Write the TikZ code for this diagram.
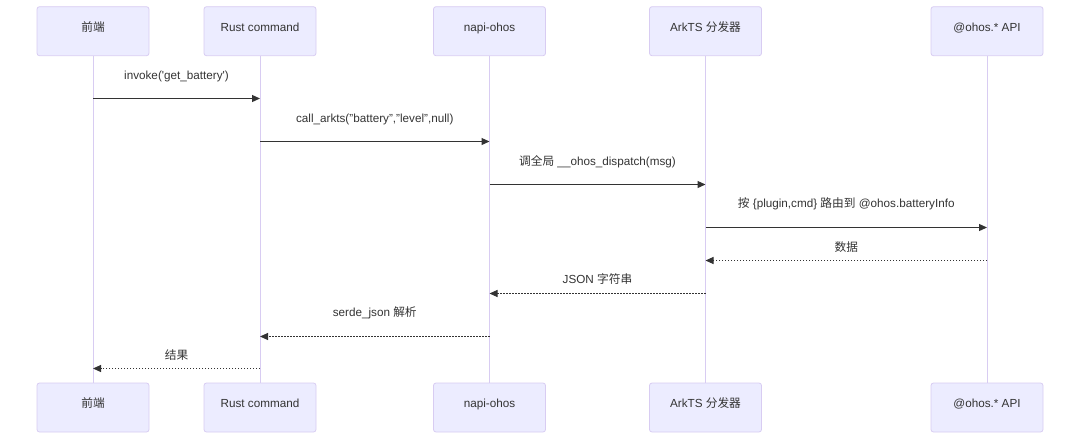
\documentclass[tikz,border=0pt]{standalone}
\usepackage{fontspec}
\setmainfont{Liberation Sans}
\newfontfamily\cjk{Noto Sans CJK SC}
\usetikzlibrary{arrows.meta}
\definecolor{actfill}{HTML}{ECECFF}
\definecolor{actline}{HTML}{D8CCF2}
\definecolor{ink}{HTML}{333333}
\tikzset{
  actor/.style={draw=actline, fill=actfill, line width=0.8pt, rounded corners=2.5pt,
    minimum width=112pt, minimum height=49pt, inner sep=0pt, text=ink,
    text height=8pt, text depth=8pt,
    font=\fontsize{11.7}{14}\selectfont},
  lifeline/.style={draw=actline, line width=1pt},
  msg/.style={draw=ink, line width=1.2pt, -{Triangle[length=8pt,width=7pt]}},
  reply/.style={msg, line width=1pt, dash pattern=on 1.5pt off 1.5pt},
  lbl/.style={text=ink, inner sep=0pt, font=\fontsize{11.7}{14}\selectfont}
}
\begin{document}
\begin{tikzpicture}[x=1pt,y=-1pt]
\useasboundingbox (0,0) rectangle (1080,440);
% lifeline x positions
\def\xa{93}\def\xb{260}\def\xc{489.5}\def\xd{705.5}\def\xe{987}
% lifelines first (behind boxes)
\coordinate (la1) at (\xa,55.7); \coordinate (la2) at (\xa,383.3);
\coordinate (lb1) at (\xb,55.7); \coordinate (lb2) at (\xb,383.3);
\coordinate (lc1) at (\xc,55.7); \coordinate (lc2) at (\xc,383.3);
\coordinate (ld1) at (\xd,55.7); \coordinate (ld2) at (\xd,383.3);
\coordinate (le1) at (\xe,55.7); \coordinate (le2) at (\xe,383.3);
\draw[lifeline] (la1) -- (la2);
\draw[lifeline] (lb1) -- (lb2);
\draw[lifeline] (lc1) -- (lc2);
\draw[lifeline] (ld1) -- (ld2);
\draw[lifeline] (le1) -- (le2);
% actors top
\node[actor] (ta) at (\xa,31.2) {{\cjk 前端}};
\node[actor] (tb) at (\xb,31.2) {Rust command};
\node[actor] (tc) at (\xc,31.2) {napi-ohos};
\node[actor] (td) at (\xd,31.2) {ArkTS {\cjk 分发器}};
\node[actor] (te) at (\xe,31.2) {@ohos.* API};
% actors bottom
\node[actor] (ba) at (\xa,407.5) {{\cjk 前端}};
\node[actor] (bb) at (\xb,407.5) {Rust command};
\node[actor] (bc) at (\xc,407.5) {napi-ohos};
\node[actor] (bd) at (\xd,407.5) {ArkTS {\cjk 分发器}};
\node[actor] (be) at (\xe,407.5) {@ohos.* API};
% message anchor points
\coordinate (m1s) at (\xa,98.5);  \coordinate (m1e) at (\xb,98.5);
\coordinate (m2s) at (\xb,141.5); \coordinate (m2e) at (\xc,141.5);
\coordinate (m3s) at (\xc,184.5); \coordinate (m3e) at (\xd,184.5);
\coordinate (m4s) at (\xd,227.5); \coordinate (m4e) at (\xe,227.5);
\coordinate (m5s) at (\xe,260.5);   \coordinate (m5e) at (\xd,260.5);
\coordinate (m6s) at (\xd,293.5); \coordinate (m6e) at (\xc,293.5);
\coordinate (m7s) at (\xc,336.5);   \coordinate (m7e) at (\xb,336.5);
\coordinate (m8s) at (\xb,368.5); \coordinate (m8e) at (\xa,368.5);
% messages
\draw[msg] (m1s) -- (m1e);
\draw[msg] (m2s) -- (m2e);
\draw[msg] (m3s) -- (m3e);
\draw[msg] (m4s) -- (m4e);
\draw[reply] (m5s) -- (m5e);
\draw[reply] (m6s) -- (m6e);
\draw[reply] (m7s) -- (m7e);
\draw[reply] (m8s) -- (m8e);
% labels
\node[lbl] (t1) at ({(\xa+\xb)/2},76) {invoke(\textquotesingle get\_battery\textquotesingle)};
\node[lbl] (t2) at ({(\xb+\xc)/2},119) {call\_arkts("battery","level",null)};
\node[lbl] (t3) at ({(\xc+\xd)/2},161.7) {{\cjk 调全局} \_\_ohos\_dispatch(msg)};
\node[lbl] (t4) at ({(\xd+\xe)/2},204) {{\cjk 按} \{plugin,cmd\} {\cjk 路由到} @ohos.batteryInfo};
\node[lbl] (t5) at ({(\xd+\xe)/2},246.7) {{\cjk 数据}};
\node[lbl] (t6) at ({(\xc+\xd)/2},279.3) {JSON {\cjk 字符串}};
\node[lbl] (t7) at ({(\xb+\xc)/2},313) {serde\_json {\cjk 解析}};
\node[lbl] (t8) at ({(\xa+\xb)/2},355) {{\cjk 结果}};
\end{tikzpicture}
\end{document}
